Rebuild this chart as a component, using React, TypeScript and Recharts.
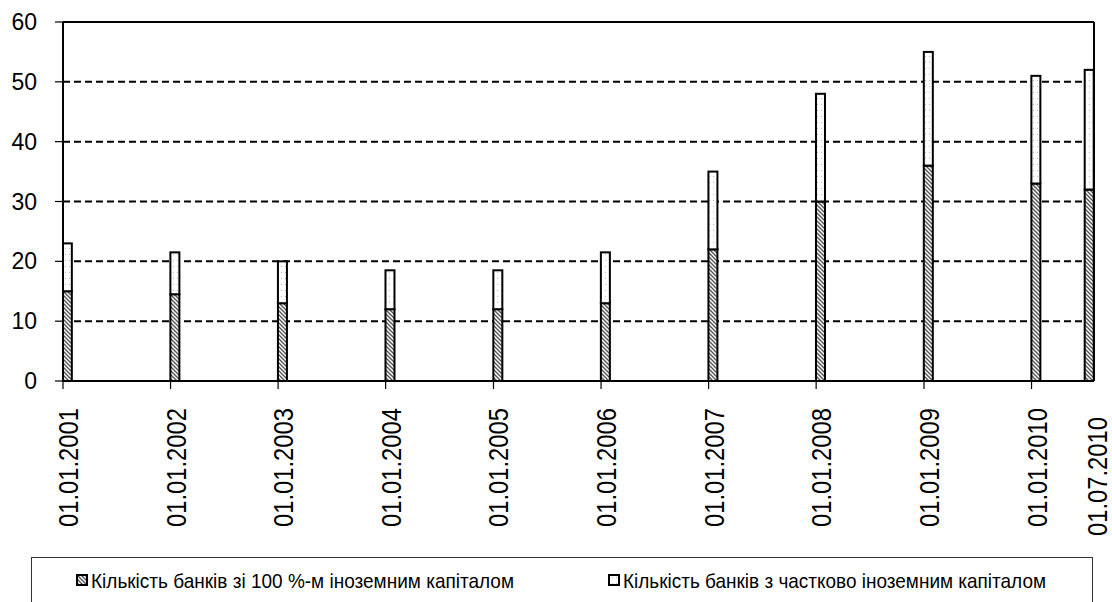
import React from 'react';
import { BarChart, Bar, XAxis, YAxis, CartesianGrid, ReferenceLine, Legend } from 'recharts';

// dates of the observations (dd.mm.yyyy)
const dates = [
  '01.01.2001', '01.01.2002', '01.01.2003', '01.01.2004', '01.01.2005', '01.01.2006',
  '01.01.2007', '01.01.2008', '01.01.2009', '01.01.2010', '01.07.2010',
];
// banks with 100% foreign capital (hatched, bottom)
const fullForeign = [15, 14.5, 13, 12, 12, 13, 22, 30, 36, 33, 32];
// banks with partial foreign capital (white, top)
const partForeign = [8, 7, 7, 6.5, 6.5, 8.5, 13, 18, 19, 18, 20];
const yTicks = [0, 10, 20, 30, 40, 50, 60];
const axisEnd = '01.08.2010';
const seriesNames = [
  'Кількість банків зі 100 %-м іноземним капіталом',
  'Кількість банків з частково іноземним капіталом',
];

const TICK_SIZE = 8;
const TICK_MARGIN = 19;
const LEGEND_H = 45;
const FONT = '"Liberation Sans", Arial, sans-serif';

const toTime = (s: string) => {
  const [d, m, y] = s.split('.').map(Number);
  return Date.UTC(y, m - 1, d);
};

const data = dates.map((d, i) => ({
  t: toTime(d),
  label: d,
  full: fullForeign[i],
  part: partForeign[i],
}));

// bars start at the date (Excel date axis), not centred on it
const makeShape = (fill: string) => (props: any) => {
  const { x, y, width, height } = props;
  if (!height) return <g />;
  return (
    <rect
      x={x + width / 2}
      y={y}
      width={width}
      height={height}
      fill={fill}
      stroke="#000"
      strokeWidth={2}
    />
  );
};

function XTick(props: any) {
  const { x, y, index } = props;
  const last = index === dates.length - 1;
  const tx = x + 15 + (last ? 7 : 0);
  const ty = y + (last ? 9 : 0);
  return (
    <g>
      {!last && (
        <line
          x1={x}
          x2={x}
          y1={y - TICK_MARGIN - TICK_SIZE}
          y2={y - TICK_MARGIN}
          stroke="#000"
          strokeWidth={1.2}
        />
      )}
      <text
        x={tx}
        y={ty}
        transform={`rotate(-90 ${tx} ${ty})`}
        textAnchor="end"
        fontSize={27}
        fontFamily={FONT}
        fill="#000"
        textLength={119}
        lengthAdjust="spacingAndGlyphs"
      >
        {dates[index]}
      </text>
    </g>
  );
}

function LegendBox() {
  const items = [
    { name: seriesNames[0], fill: 'url(#hatch)', x: 45 },
    { name: seriesNames[1], fill: 'url(#dots)', x: 577 },
  ];
  return (
    <svg width={1062} height={LEGEND_H} style={{ display: 'block' }}>
      <rect x={0.5} y={0.5} width={1061} height={LEGEND_H + 20} fill="#fff" stroke="#333" strokeWidth={1} />
      {items.map((it) => (
        <g key={it.name}>
          <rect x={it.x + 1} y={18} width={10} height={10} fill={it.fill} stroke="#000" strokeWidth={2} />
          <text
            x={it.x + 15}
            y={31}
            fontSize={21}
            fontFamily={FONT}
            fill="#000"
            textLength={423}
            lengthAdjust="spacingAndGlyphs"
          >
            {it.name}
          </text>
        </g>
      ))}
    </svg>
  );
}

export default function App() {
  return (
    <div style={{ position: 'absolute', left: 0, top: 0, width: 1112, height: 602, background: '#fff', overflow: 'hidden' }}>
      <BarChart
        width={1112}
        height={602}
        data={data}
        margin={{ top: 22, right: 18, left: 0, bottom: 0 }}
        barSize={9}
      >
        <defs>
          <pattern id="hatch" patternUnits="userSpaceOnUse" width={4} height={4}>
            <rect width={4} height={4} fill="#fff" />
            <path d="M-1,-1 L5,5 M3,-1 L5,1 M-1,3 L1,5" stroke="#555" strokeWidth={1.4} />
          </pattern>
          <pattern id="dots" patternUnits="userSpaceOnUse" width={4} height={6}>
            <rect width={4} height={6} fill="#fff" />
            <rect x={1} y={2} width={1} height={1} fill="#bbb" />
          </pattern>
        </defs>
        <CartesianGrid vertical={false} stroke="#000" strokeWidth={2} strokeDasharray="7 4" />
        <XAxis
          type="number"
          dataKey="t"
          domain={[toTime(dates[0]), toTime(axisEnd)]}
          allowDataOverflow
          ticks={data.map((d) => d.t)}
          interval={0}
          tick={<XTick />}
          tickLine={false}
          tickSize={TICK_SIZE}
          tickMargin={TICK_MARGIN}
          height={602 - 381 - LEGEND_H}
          axisLine={{ stroke: '#000', strokeWidth: 2 }}
        />
        <YAxis
          type="number"
          domain={[0, 60]}
          ticks={yTicks}
          interval={0}
          width={63}
          tickSize={TICK_SIZE}
          tickMargin={18}
          tick={{ fontSize: 23, fill: '#000', fontFamily: FONT }}
          tickLine={{ stroke: '#000', strokeWidth: 1.2 }}
          axisLine={{ stroke: '#000', strokeWidth: 2 }}
        />
        <ReferenceLine y={60} stroke="#000" strokeWidth={2} />
        <ReferenceLine x={toTime(axisEnd)} stroke="#000" strokeWidth={2} />
        <Bar
          dataKey="full"
          name={seriesNames[0]}
          stackId="a"
          shape={makeShape('url(#hatch)')}
          isAnimationActive={false}
        />
        <Bar
          dataKey="part"
          name={seriesNames[1]}
          stackId="a"
          shape={makeShape('url(#dots)')}
          isAnimationActive={false}
        />
        <Legend
          verticalAlign="bottom"
          content={() => <LegendBox />}
          wrapperStyle={{ left: 31, top: 557, bottom: 'auto', width: 1062, height: LEGEND_H }}
        />
      </BarChart>
    </div>
  );
}
